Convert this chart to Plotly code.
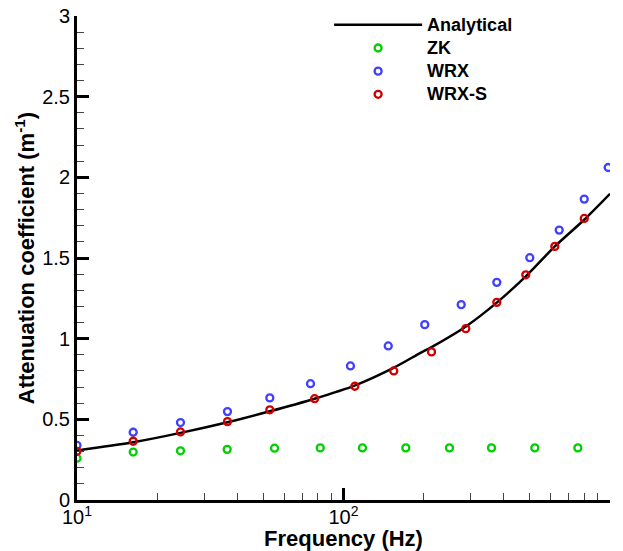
import plotly.graph_objects as go

# Analytical curve
ana_f = [10, 16.25, 24.45, 36.7, 52.9, 77.9, 110, 154, 194.5, 214, 288, 377, 483, 621, 800, 1000]
ana_v = [0.307, 0.358, 0.416, 0.482, 0.550, 0.628, 0.709, 0.819, 0.912, 0.948, 1.076, 1.225, 1.386, 1.572, 1.737, 1.898]

zk_f = [10, 16.25, 24.45, 36.6, 55.1, 81.8, 117.8, 171.3, 249.8, 359.2, 522.2, 757.3]
zk_v = [0.259, 0.297, 0.305, 0.314, 0.321, 0.323, 0.323, 0.323, 0.323, 0.323, 0.323, 0.323]

wrx_f = [10, 16.25, 24.45, 36.7, 52.9, 75.2, 106.2, 147.2, 201.8, 276.5, 376.1, 500.1, 644.8, 800.5, 984.5]
wrx_v = [0.339, 0.420, 0.480, 0.548, 0.633, 0.721, 0.831, 0.955, 1.087, 1.211, 1.349, 1.502, 1.673, 1.865, 2.061]

wrxs_f = [10, 16.25, 24.45, 36.7, 52.9, 77.9, 110.3, 154.4, 213.9, 287.7, 376.1, 483.0, 620.8, 800.5]
wrxs_v = [0.302, 0.364, 0.422, 0.486, 0.559, 0.628, 0.705, 0.800, 0.918, 1.062, 1.225, 1.396, 1.572, 1.745]

x_tickvals = [10, 100, 1000]
x_ticktext = ["10<sup>1</sup>", "10<sup>2</sup>", "10<sup>3</sup>"]
x_minor_vals = [20, 30, 40, 50, 60, 70, 80, 90, 200, 300, 400, 500, 600, 700, 800, 900]

FONT = "Liberation Sans, Arial, sans-serif"


def lname(s):
    return '<b><span style="font-size:18px">' + s + '</span></b>'


fig = go.Figure()
fig.add_trace(go.Scatter(x=ana_f, y=ana_v, mode="lines", name=lname("Analytical"),
                         line=dict(color="black", width=2.5, shape="spline", smoothing=0.8)))
fig.add_trace(go.Scatter(x=zk_f, y=zk_v, mode="markers", name=lname("ZK"),
                         marker=dict(symbol="circle-open", size=7, color="#00d000", line=dict(width=2.3, color="#00d000"))))
fig.add_trace(go.Scatter(x=wrx_f, y=wrx_v, mode="markers", name=lname("WRX"),
                         marker=dict(symbol="circle-open", size=7, color="#4040ff", line=dict(width=2.3, color="#4040ff"))))
fig.add_trace(go.Scatter(x=wrxs_f, y=wrxs_v, mode="markers", name=lname("WRX-S"),
                         marker=dict(symbol="circle-open", size=7, color="#d00000", line=dict(width=2.3, color="#d00000"))))

fig.update_layout(
    width=623, height=551,
    margin=dict(l=77, r=13, t=16, b=51, autoexpand=False),
    paper_bgcolor="white", plot_bgcolor="white",
    font=dict(family=FONT, color="black"),
    showlegend=True,
    legend=dict(x=0.473, y=1.016, xanchor="left", yanchor="top",
                bgcolor="rgba(0,0,0,0)", font=dict(size=15.5, family=FONT, color="black"),
                itemwidth=88, tracegroupgap=0),
    xaxis=dict(type="log", range=[1, 3], tickvals=x_tickvals, ticktext=x_ticktext,
               showgrid=False, zeroline=False, showline=True, linecolor="black", linewidth=3,
               ticks="inside", ticklen=12, tickwidth=3, tickcolor="black",
               tickfont=dict(size=20, family=FONT), ticklabelstandoff=-3,
               minor=dict(ticks="inside", ticklen=7, tickwidth=1, tickcolor="#444",
                          tickvals=x_minor_vals, showgrid=False),
               title=dict(text="<b>Frequency (Hz)</b>", font=dict(size=22, family=FONT), standoff=0),
               automargin=False),
    yaxis=dict(range=[0, 3], dtick=0.5, tick0=0,
               showgrid=False, zeroline=False, showline=True, linecolor="black", linewidth=3,
               ticks="inside", ticklen=12, tickwidth=3, tickcolor="black",
               tickfont=dict(size=20, family=FONT),
               minor=dict(ticks="inside", ticklen=7, tickwidth=1, tickcolor="#444", dtick=0.1, showgrid=False),
               title=dict(text="<b>Attenuation coefficient (m<sup>-1</sup>)</b>", font=dict(size=22, family=FONT), standoff=2),
               automargin=False),
)

fig.write_html("out.html")
